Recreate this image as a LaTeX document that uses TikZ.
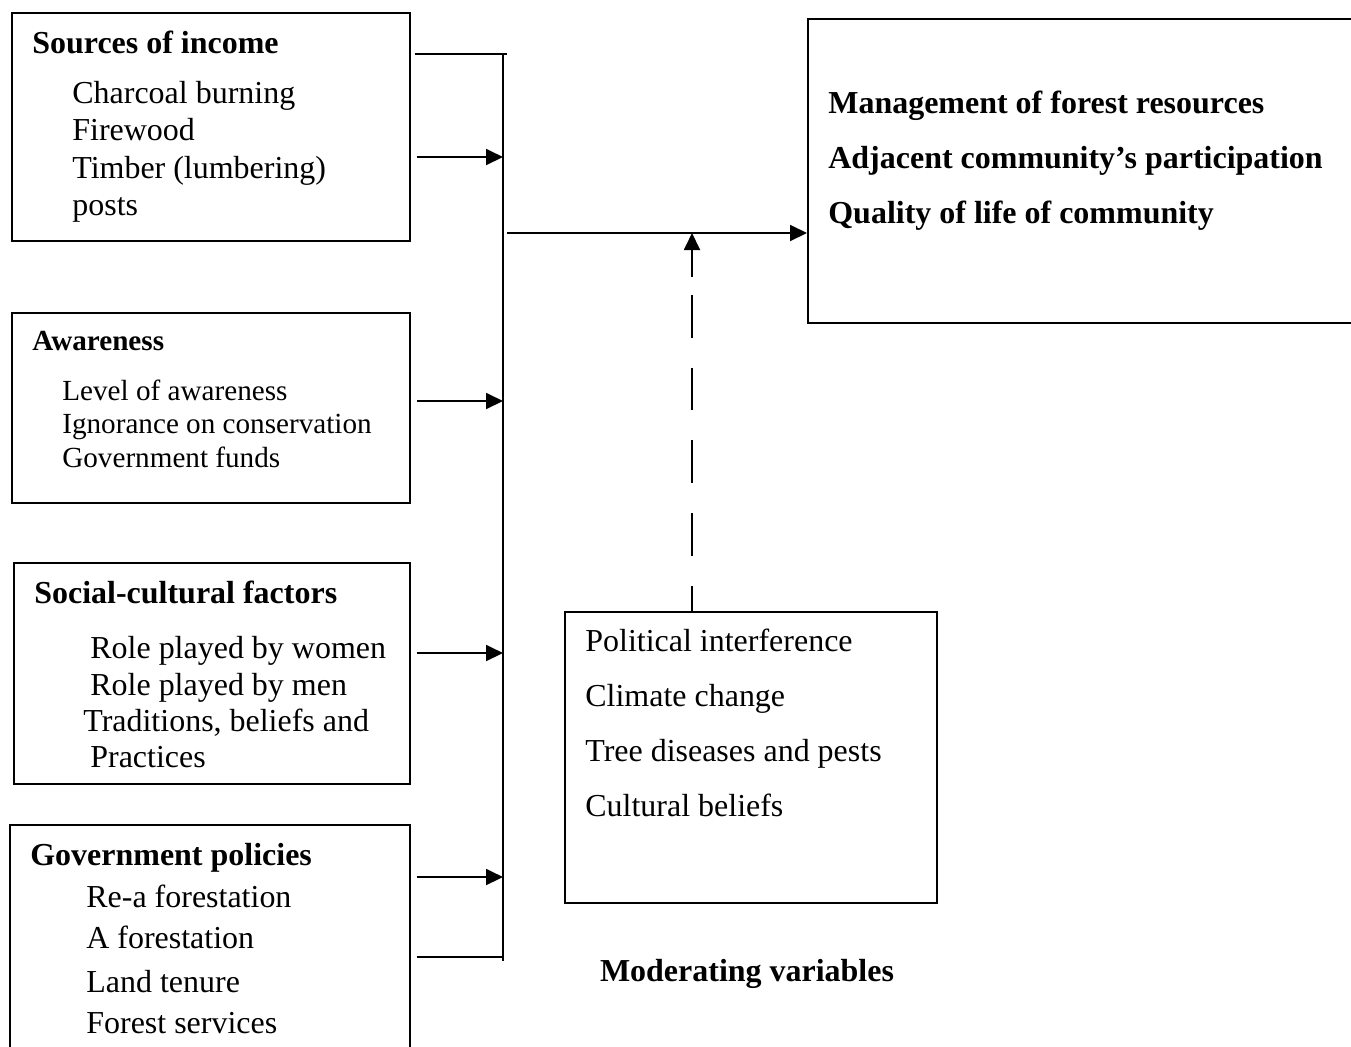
\documentclass[tikz,border=0pt]{standalone}
\usepackage{fontspec}
\setmainfont{Liberation Serif}
\usepackage{tikz}
\usetikzlibrary{arrows.meta, calc}

\tikzset{
  frame/.style={draw, line width=1.1pt, anchor=north west, inner sep=0pt},
  txt/.style={anchor=base west, inner sep=0pt, font=\fontsize{18.2}{21}\selectfont},
  small/.style={anchor=base west, inner sep=0pt, font=\fontsize{16.6}{20}\selectfont},
  rule/.style={line width=1.1pt},
  tip/.tip={Triangle[length=0.34cm,width=0.32cm]},
  link/.style={rule, -tip}
}

\begin{document}
\begin{tikzpicture}[x=0.02cm, y=-0.02cm]
      \useasboundingbox (0,0) rectangle (1351,1046);
      \clip (0,0) rectangle (1351,1046);

      % independent variables
      \node[frame, minimum width=7.96cm, minimum height=4.56cm] (income) at (11,12) {};
      \node[txt] (income-h) at (32,53)    {\textbf{Sources of income}};
      \node[txt] (income-a) at (72,103)   {Charcoal burning};
      \node[txt] (income-b) at (72,140.5) {Firewood};
      \node[txt] (income-c) at (72,178)   {Timber (lumbering)};
      \node[txt] (income-d) at (72,215.5) {posts};

      \node[frame, minimum width=7.96cm, minimum height=3.8cm] (aware) at (11,312) {};
      \node[small] (aware-h) at (32,350) {\textbf{Awareness}};
      \node[small] (aware-a) at (62,400) {Level of awareness};
      \node[small] (aware-b) at (62,433) {Ignorance on conservation};
      \node[small] (aware-c) at (62,467) {Government funds};

      \node[frame, minimum width=7.92cm, minimum height=4.42cm] (social) at (13,562) {};
      \node[txt] (social-h) at (34,603) {\textbf{Social-cultural factors}};
      \node[txt] (social-a) at (90,658) {Role played by women};
      \node[txt] (social-b) at (90,695) {Role played by men};
      \node[txt] (social-c) at (83,731) {Traditions, beliefs and};
      \node[txt] (social-d) at (90,767) {Practices};

      \node[frame, minimum width=8cm, minimum height=4.92cm] (policy) at (9,824) {};
      \node[txt] (policy-h) at (30,865)  {\textbf{Government policies}};
      \node[txt] (policy-a) at (86,907)  {Re-a forestation};
      \node[txt] (policy-b) at (86,948)  {A forestation};
      \node[txt] (policy-c) at (86,992)  {Land tenure};
      \node[txt] (policy-d) at (86,1033) {Forest services};

      % dependent variables
      \node[frame, minimum width=11.26cm, minimum height=6.08cm] (result) at (807,18) {};
      \node[txt] (result-a) at (828,113) {\textbf{Management of forest resources}};
      \node[txt] (result-b) at (828,168) {\textbf{Adjacent community’s participation}};
      \node[txt] (result-c) at (828,223) {\textbf{Quality of life of community}};

      % moderating variables
      \node[frame, minimum width=7.44cm, minimum height=5.82cm] (moder) at (564,611) {};
      \node[txt] (moder-a) at (585,651) {Political interference};
      \node[txt] (moder-b) at (585,706) {Climate change};
      \node[txt] (moder-c) at (585,761) {Tree diseases and pests};
      \node[txt] (moder-d) at (585,816) {Cultural beliefs};
      \node[txt, anchor=base] (moder-l) at (747,981) {\textbf{Moderating variables}};

      % bracket
      \coordinate (bartop) at (503,54);
      \coordinate (barbot) at (503,961);
      \coordinate (topend) at (415,54);
      \coordinate (botend) at (417,957);
      \draw[rule] (bartop) -- (barbot);
      \draw[rule] (topend) -- ($(bartop)+(4,0)$);
      \draw[rule] (botend) -- (botend -| bartop);

      \coordinate (in1) at (417,157);
      \coordinate (in2) at (417,401);
      \coordinate (in3) at (417,653);
      \coordinate (in4) at (417,877);
      \draw[link] (in1) -- (in1 -| bartop);
      \draw[link] (in2) -- (in2 -| bartop);
      \draw[link] (in3) -- (in3 -| bartop);
      \draw[link] (in4) -- (in4 -| bartop);

      \coordinate (hub) at (507,233);
      \coordinate (tap) at (692,233);
      \draw[link] (hub) -- (hub -| result.west);
      \draw[rule, tip-, dash pattern=on 0.54cm off 0.36cm on 0.86cm off 0.6cm on 0.86cm off 0.6cm
            on 0.86cm off 0.6cm on 0.86cm off 0.6cm on 0.6cm off 1cm] (tap) -- (tap |- moder.north);
    \end{tikzpicture}
\end{document}
